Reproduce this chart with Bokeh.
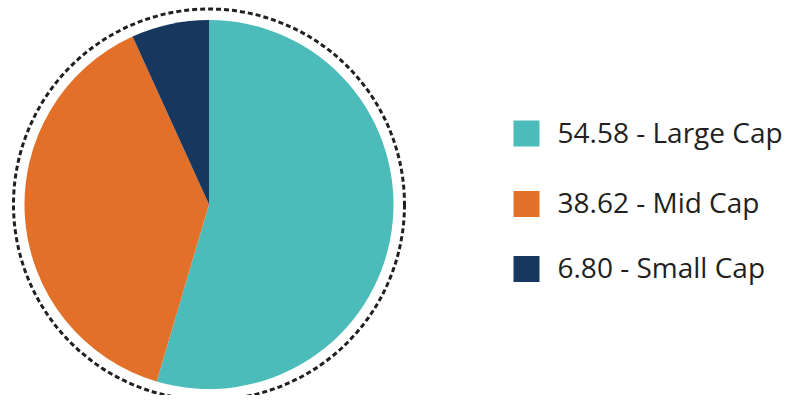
import math
from bokeh.plotting import figure
from bokeh.models import Range1d, ColumnDataSource
from bokeh.core.properties import value
from bokeh.embed import file_html
from bokeh.resources import INLINE

categories = ["Large Cap", "Mid Cap", "Small Cap"]
weights = [54.58, 38.62, 6.80]
colors = ["#4bbcba", "#e37028", "#17375e"]

W, H = 784, 395
p = figure(width=W, height=H, output_backend="svg", toolbar_location=None,
           x_range=Range1d(0, W), y_range=Range1d(411 - H, 411),
           min_border=0)
p.axis.visible = False
p.grid.visible = False
p.outline_line_color = None
p.background_fill_color = "white"

cx, cy, r = 208.5, 411 - 204, 184.5
total = sum(weights)
starts, ends = [], []
cum = 0.0
for w in weights:
    a0 = math.pi / 2 - 2 * math.pi * cum / total
    cum += w
    a1 = math.pi / 2 - 2 * math.pi * cum / total
    starts.append(a1)
    ends.append(a0)

src = ColumnDataSource(dict(x=[cx] * 3, y=[cy] * 3, start=starts, end=ends, color=colors))
p.wedge(x="x", y="y", radius=r, start_angle="start", end_angle="end",
        fill_color="color", line_color=None, source=src)

p.circle(x=[cx], y=[cy], radius=195.5, fill_color=None, line_color="#231f20",
         line_width=3, line_dash="5 3")

ys = [411 - 133, 411 - 203.5, 411 - 268.5]
labels = [f"{w:.2f} - {c}" for w, c in zip(weights, categories)]
p.rect(x=[526] * 3, y=ys, width=26, height=26, fill_color=colors, line_color=None)
p.text(x=[557] * 3, y=[v + 2 for v in ys], text=labels, text_font=value("Open Sans"),
       text_font_size="28px", text_color="#231f20", text_baseline="middle", text_align="left")

open("out.html", "w").write(file_html(p, INLINE))
